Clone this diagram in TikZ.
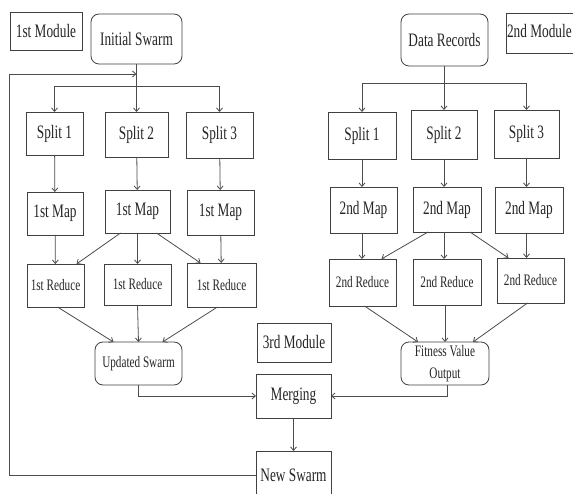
\documentclass[tikz,border=0pt]{standalone}
\usepackage{fontspec}
\setmainfont{Liberation Serif}[FakeStretch=0.7]
\usetikzlibrary{arrows.meta,calc}
\begin{document}
\begin{tikzpicture}[x=1pt,y=-1pt,
  every node/.style={inner sep=0pt,outer sep=0pt,text=black!85},
  box/.style={draw=black!75,line width=0.8pt,font=\fontsize{19}{21}\selectfont},
  smallbox/.style={box,font=\fontsize{16}{22}\selectfont},
  roundbox/.style={box,rounded corners=8pt},
  sz/.style 2 args={minimum width=#1pt,minimum height=#2pt},
  link/.style={draw=black!70,line width=0.8pt},
  arr/.style={link,-{Straight Barb[length=3.5pt,width=6pt]}}]
\useasboundingbox (0,0) rectangle (573,494);
\clip (0,0) rectangle (573,494);
\fill[white] (0,0) rectangle (573,494);

% ---------- module labels ----------
\node[box,sz={72}{38}] (modA) at (46,31) {1st Module};
\node[box,sz={94}{40}] (modB) at (553,33) {};
\node[font=\fontsize{19}{21}\selectfont,anchor=west] (modBtext) at (507,31) {2nd Module};
\node[box,sz={74}{39}] (modC) at (294,342.5) {3rd Module};

% ---------- left branch: swarm ----------
\node[roundbox,sz={91}{50}] (init) at (136.5,39) {Initial Swarm};
\node[box,sz={57}{43}] (s1) at (54.5,133.5) {Split 1};
\node[box,sz={63}{45}] (s2) at (136.5,134.5) {Split 2};
\node[box,sz={67}{46}] (s3) at (219.5,135) {Split 3};
\node[box,sz={56}{43}] (m1) at (55,213.5) {1st Map};
\node[box,sz={65}{43}] (m2) at (137.5,211.5) {1st Map};
\node[box,sz={67}{45}] (m3) at (220.5,212.5) {1st Map};
\node[smallbox,sz={57}{43}] (r1) at (55.5,285.5) {1st Reduce};
\node[smallbox,sz={67}{41}] (r2) at (137.5,284.5) {1st Reduce};
\node[smallbox,sz={69}{44}] (r3) at (221.5,285) {1st Reduce};
\node[smallbox,rounded corners=8pt,sz={87}{43}] (upd) at (138.5,363.5) {Updated Swarm};

% ---------- right branch: data ----------
\node[roundbox,sz={87}{52}] (data) at (444.5,40) {Data Records};
\node[box,sz={68}{47}] (t1) at (362,135.5) {Split 1};
\node[box,sz={66}{49}] (t2) at (444,134.5) {Split 2};
\node[box,sz={65}{48}] (t3) at (526.5,134) {Split 3};
\node[box,sz={67}{46}] (n1) at (363.5,210) {2nd Map};
\node[box,sz={68}{45}] (n2) at (447,209.5) {2nd Map};
\node[box,sz={68}{46}] (n3) at (529,210) {2nd Map};
\node[smallbox,sz={67}{47}] (q1) at (362.5,282.5) {2nd Reduce};
\node[smallbox,sz={68}{46}] (q2) at (447,282) {2nd Reduce};
\node[smallbox,sz={67}{45}] (q3) at (530.5,280.5) {2nd Reduce};
\node[smallbox,rounded corners=8pt,sz={88}{43},align=center] (fit) at (445,363.5) {Fitness Value\\Output};

% ---------- merge and new swarm ----------
\node[box,sz={75}{44}] (merge) at (293.5,396) {Merging};
\node[box,sz={75}{48}] (news) at (293.5,475) {New Swarm};

% ---------- left connectors ----------
\coordinate (barL) at (136,86);
\draw[link] (s1.north |- barL) -- (s3.north |- barL);
\draw[arr] (s1.north |- barL) -- (s1.north);
\draw[arr] (s3.north |- barL) -- (s3.north);
\draw[arr] (init.south -| s2.north) -- (s2.north);
\draw[arr] (s1) -- (m1);
\draw[arr] (s2) -- (m2);
\draw[arr] (s3) -- (m3);
\draw[arr] (m1) -- (r1);
\draw[arr] (m2) -- (r2);
\draw[arr] (m3) -- (r3);
\draw[arr] ($(m2.south)+(-17,0)$) -- ($(r1.north)+(21,0)$);
\draw[arr] ($(m2.south)+(19,0)$) -- ($(r3.north)+(-21,0)$);
\draw[arr] ($(r1.south)+(2,0)$) -- ($(upd.north)+(-25,0)$);
\draw[arr] (r2.south) -- (upd.north);
\draw[arr] ($(r3.south)+(-4,0)$) -- ($(upd.north)+(24,0)$);

% ---------- right connectors ----------
\coordinate (barR) at (444,83);
\draw[link] (t1.north |- barR) -- (t3.north |- barR);
\draw[arr] (t1.north |- barR) -- (t1.north);
\draw[arr] (t3.north |- barR) -- (t3.north);
\draw[arr] (data.south -| t2.north) -- (t2.north);
\draw[arr] (t1.south) -- (t1.south |- n1.north);
\draw[arr] (t2.south) -- (t2.south |- n2.north);
\draw[arr] (t3.south) -- (t3.south |- n3.north);
\draw[arr] (n1.south -| t1) -- (q1.north -| t1);
\draw[arr] (n2.south -| t2) -- (q2.north -| t2);
\draw[arr] (n3.south -| t3) -- (q3.north -| t3);
\draw[arr] ($(n2.south)+(-19,0)$) -- ($(q1.north)+(19,0)$);
\draw[arr] ($(n2.south)+(23,0)$) -- ($(q3.north)+(-22,0)$);
\draw[arr] ($(q1.south)+(2,0)$) -- ($(fit.north)+(-27,0)$);
\draw[arr] (q2.south -| fit.north) -- (fit.north);
\draw[arr] ($(q3.south)+(-3,0)$) -- ($(fit.north)+(28,0)$);

% ---------- merging and feedback loop ----------
\draw[arr] (upd.south) |- (merge.west);
\draw[arr] ($(fit.south)+(2,0)$) |- (merge.east);
\draw[arr] (merge) -- (news);
\coordinate (loopTop) at (9,74);
\draw[arr] (news.west) -| (loopTop) -- (init.south |- loopTop);
\end{tikzpicture}
\end{document}
